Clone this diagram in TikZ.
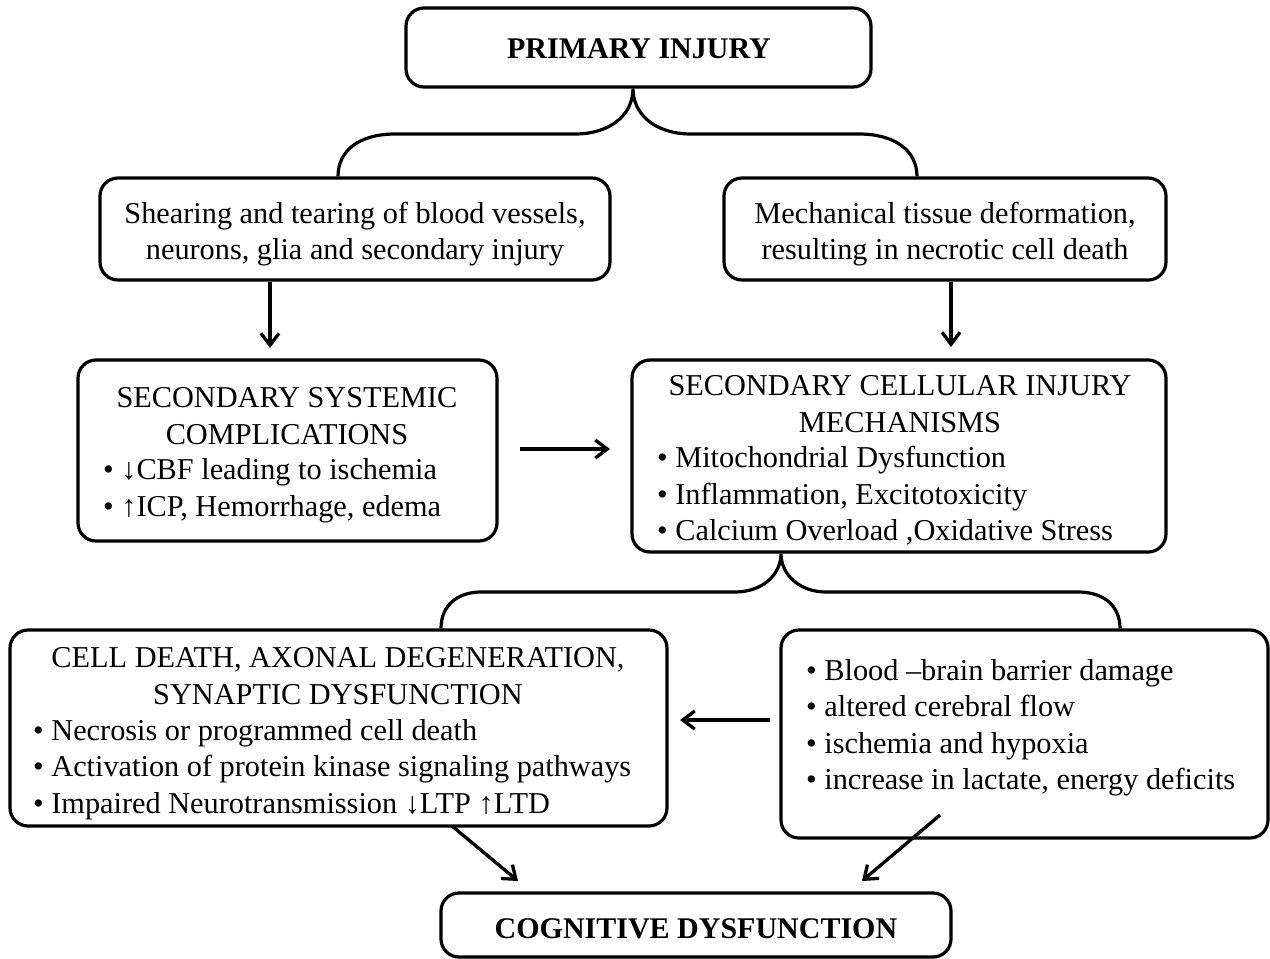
\documentclass[tikz,border=0pt]{standalone}
\usepackage{fontspec}
\setmainfont{Liberation Serif}
\usetikzlibrary{arrows.meta}
\begin{document}
\begin{tikzpicture}[x=1pt,y=-1pt,
  box/.style={draw, line width=3.2pt, rounded corners=18pt, inner sep=0pt},
  txt/.style={inner sep=0pt, font=\fontsize{30.3}{36.5}\selectfont},
  arr/.style={line width=3.3pt, -{Straight Barb[length=12pt,width=18pt,line width=3.3pt]}},
  brace/.style={line width=3.2pt}]
\useasboundingbox (0,0) rectangle (1270,959);
% boxes
\node[box, minimum width=465pt, minimum height=79pt] (prim) at (638.5,47.5) {};
\node[box, minimum width=510pt, minimum height=102pt] (shear) at (355,229) {};
\node[box, minimum width=442pt, minimum height=102pt] (mech) at (945,229) {};
\node[box, minimum width=419pt, minimum height=181pt] (sys) at (287.5,450.5) {};
\node[box, minimum width=534pt, minimum height=192pt] (cell) at (899,456) {};
\node[box, minimum width=657pt, minimum height=196pt] (death) at (338.5,728) {};
\node[box, minimum width=487pt, minimum height=208pt] (bbb) at (1024.5,734) {};
\node[box, minimum width=510pt, minimum height=64pt] (cog) at (696,925) {};
% texts
\node[txt, font=\fontsize{30}{36.5}\selectfont\bfseries] (tprim) at (639,49) {PRIMARY INJURY};
\node[txt, align=center] (tshear) at (355,234) {Shearing and tearing of blood vessels,\\neurons, glia and secondary injury};
\node[txt, align=center] (tmech) at (945,234) {Mechanical tissue deformation,\\resulting in necrotic cell death};
\node[txt, align=center] (tsys) at (287,416) {SECONDARY SYSTEMIC\\COMPLICATIONS};
\node[txt, align=left, anchor=west] (lsys) at (103,491) {• ↓CBF leading to ischemia\\• ↑ICP, Hemorrhage, edema};
\node[txt, align=center] (tcell) at (900,404) {SECONDARY CELLULAR INJURY\\MECHANISMS};
\node[txt, align=left, anchor=west] (lcell) at (657,496) {• Mitochondrial Dysfunction\\• Inflammation, Excitotoxicity\\• Calcium Overload ,Oxidative Stress};
\node[txt, align=center] (tdeath) at (338,676) {CELL DEATH, AXONAL DEGENERATION,\\SYNAPTIC DYSFUNCTION};
\node[txt, align=left, anchor=west] (ldeath) at (33,769.5) {• Necrosis or programmed cell death\\• Activation of protein kinase signaling pathways\\• Impaired Neurotransmission ↓LTP ↑LTD};
\node[txt, align=left, anchor=west] (lbbb) at (806,727.5) {• Blood –brain barrier damage\\• altered cerebral flow\\• ischemia and hypoxia\\• increase in lactate, energy deficits};
\node[txt, font=\fontsize{30}{36.5}\selectfont\bfseries] (tcog) at (696,929) {COGNITIVE DYSFUNCTION};
% braces
\coordinate (b1l) at (338,0); \coordinate (b1t) at (633,0); \coordinate (b1r) at (917,0);
\draw[brace] (shear.north -| b1l) .. controls (338,150) and (360,134) .. (395,134) -- (575,134)
  .. controls (610,134) and (633,115) .. (prim.south -| b1t)
  .. controls (633,115) and (656,134) .. (691,134) -- (859,134)
  .. controls (894,134) and (917,150) .. (mech.north -| b1r);
\coordinate (b2l) at (441,0); \coordinate (b2t) at (781,0); \coordinate (b2r) at (1120,0);
\draw[brace] (death.north -| b2l) .. controls (441,605) and (458,592) .. (481,592) -- (735,592)
  .. controls (762,592) and (781,575) .. (cell.south -| b2t)
  .. controls (781,575) and (800,592) .. (826,592) -- (1078,592)
  .. controls (1103,592) and (1120,605) .. (bbb.north -| b2r);
% arrows
\coordinate (a1) at (270,348);
\draw[arr] (shear.south -| a1) -- (a1);
\coordinate (a2) at (951,347);
\draw[arr] (mech.south -| a2) -- (a2);
\coordinate (a3s) at (520,449); \coordinate (a3e) at (610,449);
\draw[arr] (a3s) -- (a3e);
\coordinate (a4s) at (770,720); \coordinate (a4e) at (680,720);
\draw[arr] (a4s) -- (a4e);
\coordinate (a5s) at (452,826); \coordinate (a5e) at (518,881);
\draw[arr] (a5s) -- (a5e);
\coordinate (a6s) at (940,815); \coordinate (a6e) at (862,881);
\draw[arr] (a6s) -- (a6e);
\end{tikzpicture}
\end{document}
